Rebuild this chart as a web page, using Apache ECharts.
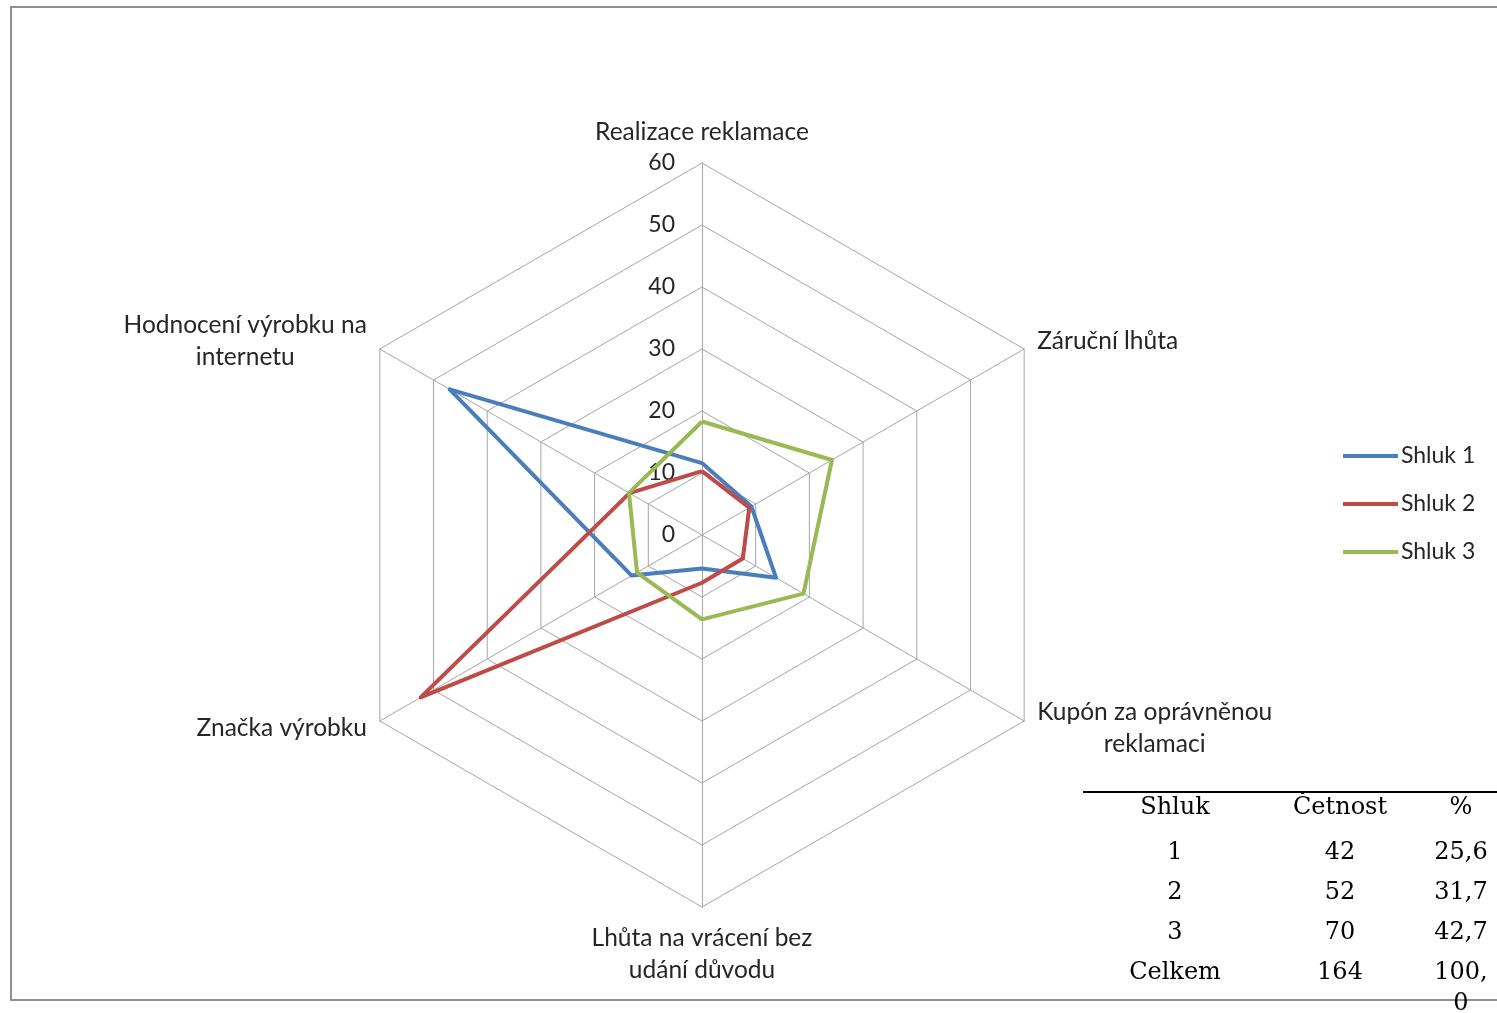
<!DOCTYPE html>
<html>
<head>
<meta charset="utf-8">
<title>Shluky – radar</title>
<script src="https://cdn.jsdelivr.net/npm/echarts@6/dist/echarts.min.js"></script>
<style>
  html, body { margin: 0; padding: 0; background: #fff; }
  #chart { width: 1497px; height: 1013px; }
</style>
</head>
<body>
<div id="chart"></div>
<script>
// Radar axes, listed clockwise from the top
const categories = [
  'Realizace reklamace',
  'Záruční lhůta',
  'Kupón za oprávněnou\nreklamaci',
  'Lhůta na vrácení bez\nudání důvodu',
  'Značka výrobku',
  'Hodnocení výrobku na\ninternetu'
];
const axisMax = 60;
const axisSplits = 6;

// Cluster profiles (same clockwise order as categories)
const shluk1 = [11.6, 9.2, 13.8, 5.4, 13.1, 47.0];
const shluk2 = [10.3, 8.8, 7.6, 7.7, 52.4, 13.5];
const shluk3 = [18.3, 24.2, 18.9, 13.6, 12.1, 13.6];
const seriesNames = ['Shluk 1', 'Shluk 2', 'Shluk 3'];
const seriesColors = ['#4a7ebb', '#be4b48', '#98b954'];

// Cluster size table
const tableHeader = ['Shluk', 'Četnost', '%'];
const tableShluk = ['1', '2', '3', 'Celkem'];
const tableCount = ['42', '52', '70', '164'];
const tablePct = ['25,6', '31,7', '42,7', '100,0'];

// ECharts lays radar indicators counter-clockwise; keep the first one on top
const ccw = [0].concat(categories.map((_, i) => i).slice(1).reverse());
const pick = arr => ccw.map(i => arr[i]);

const textColor = '#262626';
const sansFont = 'Lato';
const sansSize = 23;
const nameSize = 24.5;
const gridColor = '#a6a6a6';

const indicator = pick(categories).map((name, i) => {
  const ind = { name: name, min: 0, max: axisMax };
  if (i === 0) ind.axisLabel = { show: true };
  return ind;
});

const series = [shluk1, shluk2, shluk3].map((vals, k) => ({
  type: 'radar',
  name: seriesNames[k],
  color: seriesColors[k],
  symbol: 'none',
  lineStyle: { width: 4, color: seriesColors[k] },
  itemStyle: { color: seriesColors[k] },
  data: [{ name: seriesNames[k], value: pick(vals) }],
  z: 3 + k
}));

// Table layout
const colX = [1175, 1340, 1461];
const headerY = 808;
const rowY0 = 852;
const rowStep = 40;
const serif = 'DejaVu Serif';
const tableText = [];
tableHeader.forEach((t, c) => {
  tableText.push({
    type: 'text', x: colX[c], y: headerY,
    style: { text: t, font: '24px ' + serif, fill: '#000', align: 'center', verticalAlign: 'middle' }
  });
});
[tableShluk, tableCount, tablePct].forEach((col, c) => {
  col.forEach((t, r) => {
    tableText.push({
      type: 'text', x: colX[c], y: rowY0 + r * rowStep - 15,
      style: {
        text: t, font: '24px ' + serif, fill: '#000', align: 'center', verticalAlign: 'top',
        width: c === 2 ? 60 : undefined, overflow: c === 2 ? 'breakAll' : undefined, lineHeight: 31
      }
    });
  });
});

const chart = echarts.init(document.getElementById('chart'), null, { renderer: 'canvas' });
chart.setOption({
  backgroundColor: '#fff',
  animation: false,
  legend: {
    orient: 'vertical',
    left: 1343,
    top: 442,
    padding: 0,
    icon: 'rect',
    itemWidth: 55,
    itemHeight: 4,
    itemGap: 20,
    data: seriesNames,
    textStyle: { fontFamily: sansFont, fontSize: sansSize, color: textColor, lineHeight: 28, padding: [0, 0, 0, -2] }
  },
  radar: {
    center: [702, 535],
    radius: 372,
    shape: 'polygon',
    splitNumber: axisSplits,
    startAngle: 90,
    indicator: indicator,
    axisName: {
      color: textColor,
      fontFamily: sansFont,
      fontSize: nameSize,
      lineHeight: 32,
      formatter: name => name.split('\n').map(s => '{c|' + s + '}').join('\n'),
      rich: { c: { align: 'center', fontFamily: sansFont, fontSize: nameSize, color: textColor, lineHeight: 32 } }
    },
    nameGap: 15,
    axisLine: { lineStyle: { color: gridColor, width: 1 } },
    splitLine: { lineStyle: { color: gridColor, width: 1 } },
    splitArea: { show: false },
    axisTick: { show: false },
    axisLabel: {
      show: false,
      color: textColor,
      fontFamily: sansFont,
      fontSize: sansSize,
      margin: 27
    }
  },
  series: series,
  graphic: [
    {
      type: 'rect', z: 0, silent: true,
      shape: { x: 11, y: 7, width: 1500, height: 993 },
      style: { fill: 'none', stroke: '#8f8f8f', lineWidth: 2 }
    },
    {
      type: 'line', silent: true,
      shape: { x1: 1083, y1: 792, x2: 1497, y2: 792 },
      style: { stroke: '#000', lineWidth: 2 }
    }
  ].concat(tableText)
});
</script>
</body>
</html>
